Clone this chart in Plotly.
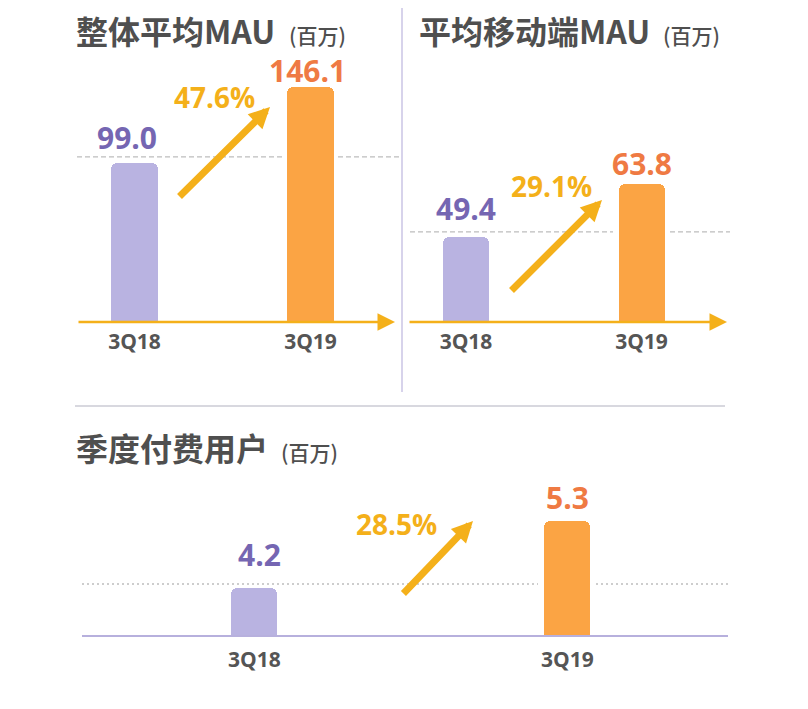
import plotly.graph_objects as go

# ---------------- data ----------------
categories = ["3Q18", "3Q19"]
mau_total = [99.0, 146.1]        # 整体平均MAU (百万)
mau_mobile = [49.4, 63.8]        # 平均移动端MAU (百万)
paying_users = [4.2, 5.3]        # 季度付费用户 (百万)
growth_labels = ["47.6%", "29.1%", "28.5%"]
panel_titles = ["整体平均MAU", "平均移动端MAU", "季度付费用户"]
unit_label = "(百万)"

# ---------------- style ----------------
OFF = 8                      # default page margin of the html body
W, H = 808 - OFF, 709 - OFF
BAR_COLORS = ["#b9b3e1", "#fba444"]
LABEL_COLORS = ["#7566b2", "#ef7a43"]
ARROW_COLOR = "#f4b01a"
TEXT_GRAY = "#555555"
TITLE_GRAY = "#4f4f4f"
NUM_FONT = "Open Sans, Lato, sans-serif"
CJK_FONT = "Noto Sans CJK SC, sans-serif"


def px(x):
    return (x - OFF) / W


def py(y):
    return 1 - (y - OFF) / H


# panel layout (window pixel positions) -- purely presentational
panels = [
    dict(values=mau_total, xdom=(77, 395), ydom=(322, 40), xrange=[-0.3267, 1.480],
         yrange=[0, 175.4], width=0.267, title_xy=(75, 30), unit_xy=(288, 35),
         label_shift=[(-8, 25), (-3, 17)], ref_shift=6,
         dash_segments=[(77, 282), (338, 400)],
         growth=dict(tail=(178, 198), tip=(270, 107), label=(214, 97)),
         axis_arrow=True),
    dict(values=mau_mobile, xdom=(408, 727), ydom=(322, 40), xrange=[-0.3305, 1.487],
         yrange=[26.3, 102.9], width=0.262, title_xy=(418, 30), unit_xy=(662, 35),
         label_shift=[(0, 28), (0, 20)], ref_shift=5,
         dash_segments=[(410, 613), (670, 730)],
         growth=dict(tail=(510, 292), tip=(602, 200), label=(551, 186)),
         axis_arrow=True),
    dict(values=paying_users, xdom=(82, 728), ydom=(635, 480), xrange=[-0.551, 1.513],
         yrange=[3.428, 5.973], width=0.147, title_xy=(75, 447), unit_xy=(280, 452),
         label_shift=[(5, 33), (0, 23)], ref_shift=4,
         dash_segments=[(82, 538), (596, 728)],
         growth=dict(tail=(402, 595), tip=(473, 521), label=(396, 524)),
         axis_arrow=False),
]

fig = go.Figure()
annotations = []
shapes = []

for i, p in enumerate(panels):
    n = i + 1
    xa = "x" if n == 1 else f"x{n}"
    ya = "y" if n == 1 else f"y{n}"
    xkey = "xaxis" if n == 1 else f"xaxis{n}"
    ykey = "yaxis" if n == 1 else f"yaxis{n}"

    fig.add_trace(go.Bar(
        x=categories, y=p["values"], width=p["width"],
        marker=dict(color=BAR_COLORS, cornerradius=6, line=dict(width=0)),
        xaxis=xa, yaxis=ya, showlegend=False, hoverinfo="x+y",
    ))

    fig.update_layout(**{
        xkey: dict(domain=[px(p["xdom"][0]), px(p["xdom"][1])], anchor=ya,
                   type="category", range=p["xrange"], showgrid=False,
                   zeroline=False, ticks="", fixedrange=True,
                   showline=not p["axis_arrow"], linecolor="#b7b0dd", linewidth=2,
                   tickfont=dict(family=NUM_FONT, size=21, color=TEXT_GRAY, weight="bold"),
                   ticklabelstandoff=5),
        ykey: dict(domain=[py(p["ydom"][0]), py(p["ydom"][1])], anchor=xa,
                   range=p["yrange"], showgrid=False, zeroline=False,
                   showticklabels=False, ticks="", showline=False, fixedrange=True),
    })

    # value labels
    for j, (cat, v) in enumerate(zip(categories, p["values"])):
        dx, dy = p["label_shift"][j]
        annotations.append(dict(
            x=cat, y=v, xref=xa, yref=ya, text=f"{v:.1f}", showarrow=False,
            xanchor="center", yanchor="middle", xshift=dx, yshift=dy,
            font=dict(family=NUM_FONT, size=30, color=LABEL_COLORS[j], weight="bold"),
        ))

    # dashed reference line at 3Q18 level
    for (x0, x1) in p["dash_segments"]:
        shapes.append(dict(
            type="line", xref="paper", yref=ya, ysizemode="pixel",
            yanchor=p["values"][0], x0=px(x0), x1=px(x1),
            y0=p["ref_shift"], y1=p["ref_shift"],
            line=dict(color="#bdbdbd", width=1.3,
                      dash="2px,3px" if not p["axis_arrow"] else "5px,3px"),
            layer="below",
        ))

    # axis arrow
    if p["axis_arrow"]:
        annotations.append(dict(
            x=px(p["xdom"][1]), y=py(p["ydom"][0]), xref="paper", yref="paper",
            ax=-(p["xdom"][1] - p["xdom"][0]), ay=0, axref="pixel", ayref="pixel",
            text="", showarrow=True, arrowhead=2, arrowsize=1.4, arrowwidth=2.5,
            arrowcolor=ARROW_COLOR, standoff=0,
        ))

    # growth arrow + label
    g = p["growth"]
    annotations.append(dict(
        x=px(g["tip"][0]), y=py(g["tip"][1]), xref="paper", yref="paper",
        ax=g["tail"][0] - g["tip"][0], ay=g["tail"][1] - g["tip"][1],
        axref="pixel", ayref="pixel", text="", showarrow=True,
        arrowhead=2, arrowsize=0.6, arrowwidth=7, arrowcolor=ARROW_COLOR, standoff=0,
    ))
    annotations.append(dict(
        x=px(g["label"][0]), y=py(g["label"][1]), xref="paper", yref="paper",
        text=growth_labels[i], showarrow=False, xanchor="center", yanchor="middle",
        font=dict(family=NUM_FONT, size=28, color=ARROW_COLOR, weight="bold"),
    ))

    # title + unit
    tx, ty = p["title_xy"]
    annotations.append(dict(
        x=px(tx), y=py(ty), xref="paper", yref="paper", xanchor="left",
        yanchor="middle", borderpad=0, text=f"<b>{panel_titles[i]}</b>",
        showarrow=False, font=dict(family=CJK_FONT, size=32, color=TITLE_GRAY),
    ))
    ux, uy = p["unit_xy"]
    annotations.append(dict(
        x=px(ux), y=py(uy), xref="paper", yref="paper", xanchor="left",
        yanchor="middle", borderpad=0, text=unit_label,
        showarrow=False, font=dict(family=CJK_FONT, size=21, color=TITLE_GRAY,
                                   weight=500),
    ))

# panel dividers
shapes.append(dict(type="line", xref="paper", yref="paper", x0=px(402), x1=px(402),
                   y0=py(8), y1=py(392), line=dict(color="#cac5e4", width=1.5)))
shapes.append(dict(type="line", xref="paper", yref="paper", x0=px(75), x1=px(725),
                   y0=py(406), y1=py(406), line=dict(color="#cbcbd4", width=1.5)))

fig.update_layout(
    width=W, height=H, margin=dict(l=0, r=0, t=0, b=0),
    paper_bgcolor="white", plot_bgcolor="rgba(0,0,0,0)",
    annotations=annotations, shapes=shapes, bargap=0,
)

fig.write_html("out.html")
